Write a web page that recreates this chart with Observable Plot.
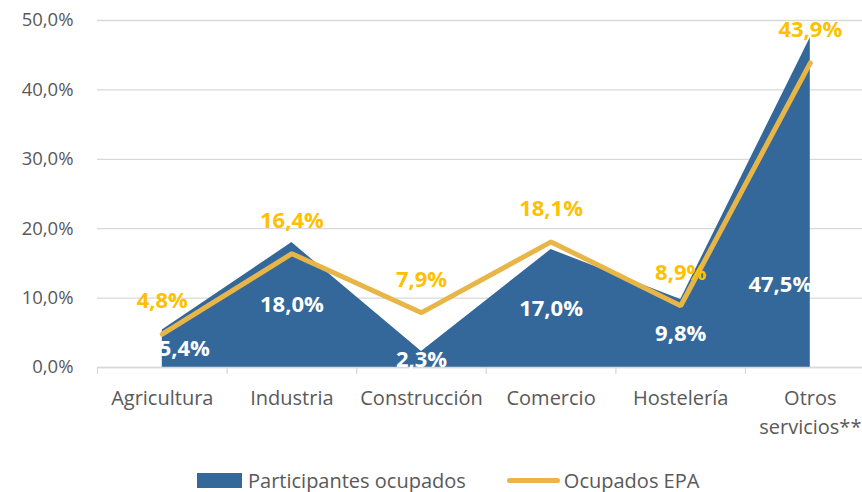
<!DOCTYPE html>
<html><head><meta charset="utf-8">
<script src="https://cdn.jsdelivr.net/npm/d3@7"></script>
<script src="https://cdn.jsdelivr.net/npm/@observablehq/plot@0.6"></script>
<style>
body{margin:0;background:#fff;font-family:"Open Sans",sans-serif;}
#legend{display:flex;justify-content:flex-start;align-items:center;height:36px;margin-left:197px;color:#595959;font-size:20px;}
.sw{display:inline-block;}
</style></head><body>
<div id="chart"></div>
<div id="legend"></div>
<script>
const categories = ["Agricultura", "Industria", "Construcción", "Comercio", "Hostelería", "Otros\nservicios**"];
const participantes = [5.4, 18.0, 2.3, 17.0, 9.8, 47.5];
const epa = [4.8, 16.4, 7.9, 18.1, 8.9, 43.9];
const yTicks = [0, 10, 20, 30, 40, 50];
const seriesNames = ["Participantes ocupados", "Ocupados EPA"];

const blue = "#35689A", gold = "#E8B547", labelGold = "#FFC000", gray = "#595959", grid = "#D9D9D9";
const fmt = v => v.toFixed(1).replace(".", ",") + "%";
const rows = categories.map((c, i) => ({i, c, p: participantes[i], e: epa[i]}));
const last = rows.length - 1;
const blueLabel = {x: "i", text: d => fmt(d.p), fill: "#fff", fontSize: 22, fontWeight: "bold"};

const chart = Plot.plot({
  width: 862, height: 462,
  marginLeft: 97, marginRight: 0, marginTop: 20, marginBottom: 95,
  style: {fontFamily: "Open Sans, sans-serif", background: "#fff"},
  x: {domain: [-0.5, categories.length - 0.5], range: [97, 97 + 129.6 * categories.length]},
  y: {domain: [0, 50]},
  marks: [
    Plot.gridY(yTicks, {stroke: grid, strokeOpacity: 1, strokeWidth: 1.3}),
    Plot.areaY(rows, {x: "i", y: "p", fill: blue}),
    Plot.line(rows, {x: "i", y: "e", stroke: gold, strokeWidth: 5, strokeLinejoin: "miter"}),
    Plot.ruleY([0], {stroke: grid, strokeWidth: 1.3}),
    Plot.axisY(yTicks, {tickSize: 0, tickPadding: 24, tickFormat: fmt, fontSize: 18.5, fill: gray, label: null}),
    Plot.axisX(d3.range(categories.length + 1).map(i => i - 0.5), {tickSize: 7, stroke: grid, strokeWidth: 1.3, tickFormat: () => "", label: null}),
    Plot.axisX(d3.range(categories.length), {tickSize: 0, tickPadding: 17, tickFormat: i => categories[i], fontSize: 20, fill: gray, lineHeight: 1.45, label: null}),
    Plot.text(rows, {...blueLabel, y: d => d.p / 2, filter: d => d.i > 0 && d.i < last}),
    Plot.text(rows, {...blueLabel, y: d => d.p / 2, filter: d => d.i === 0, dx: 22}),
    Plot.text(rows, {...blueLabel, y: d => d.p / 4, filter: d => d.i === last, dx: -30}),
    Plot.text(rows, {x: "i", y: "e", dy: -33, text: d => fmt(d.e), fill: labelGold, fontSize: 22, fontWeight: "bold"})
  ]
});
document.getElementById("chart").appendChild(chart);

const lg = document.getElementById("legend");
lg.innerHTML =
  `<span class="sw" style="width:45px;height:15px;background:${blue};margin-right:6px"></span><span>${seriesNames[0]}</span>` +
  `<span class="sw" style="width:53px;height:5px;border-radius:3px;background:${gold};margin-left:41px;margin-right:4px"></span><span>${seriesNames[1]}</span>`;
</script>
</body></html>
